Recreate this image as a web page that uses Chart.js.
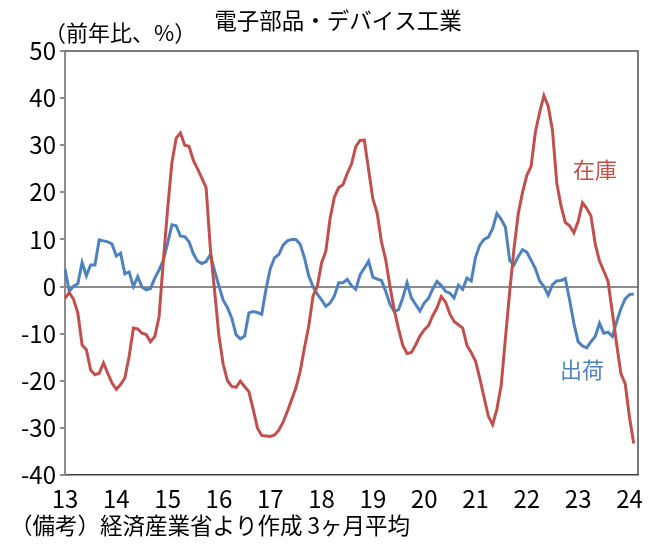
<!DOCTYPE html>
<html lang="ja">
<head>
<meta charset="utf-8">
<title>電子部品・デバイス工業</title>
<script src="https://cdn.jsdelivr.net/npm/chart.js@4.4.1/dist/chart.umd.min.js"></script>
<style>
  html, body { margin: 0; padding: 0; background: #fff; }
  #chart { display: block; }
</style>
</head>
<body>
<canvas id="chart" width="657" height="545"></canvas>
<script>
// 電子部品・デバイス工業：出荷・在庫（前年比、3ヶ月平均）

const START_YEAR = 2013;
const MONTH_COUNT = 135; // Jan 2013 .. Mar 2024 (axis runs a little past the data)

const yearTicks = ["13", "14", "15", "16", "17", "18", "19", "20", "21", "22", "23", "24"];

// 在庫 (inventory), monthly from Jan 2013
const inventory = [
  -2.5, -1.3, -2.7, -5.6, -12.4, -13.4, -17.7, -18.7, -18.4, -16.2, -18.4, -20.5,
  -21.8, -20.8, -19.4, -14.8, -8.8, -9.0, -9.9, -10.2, -11.7, -10.6, -6.4, 5.5,
  16.5, 26.3, 31.5, 32.6, 30.0, 29.8, 26.8, 25.0, 23.0, 21.0, 8.0, -1.0,
  -10.5, -16.5, -20.0, -21.2, -21.4, -20.1, -21.2, -22.3, -26.0, -30.0, -31.6, -31.7,
  -31.8, -31.5, -30.5, -28.8, -26.5, -24.0, -21.5, -18.0, -13.0, -8.4, -2.0, 0.0,
  5.0, 7.5, 14.5, 19.0, 21.0, 21.6, 24.0, 26.0, 29.7, 31.0, 31.1, 24.8,
  18.6, 15.6, 9.5, 5.7, 0.0, -5.0, -9.0, -12.5, -14.2, -14.0, -12.4, -10.5,
  -9.2, -8.3, -6.2, -4.5, -2.1, -3.3, -5.8, -7.4, -8.1, -8.8, -12.5, -14.0,
  -15.8, -19.5, -23.5, -27.5, -29.3, -26.0, -21.0, -11.0, -1.0, 8.0, 15.5, 20.0,
  23.6, 25.5, 32.8, 37.0, 40.5, 38.3, 33.2, 22.0, 17.1, 13.6, 12.9, 11.4,
  13.8, 17.8, 16.6, 15.0, 9.0, 5.4, 3.3, 1.1, -5.5, -12.2, -18.5, -20.6,
  -27.7, -33.3,
];

// 出荷 (shipments), monthly from Jan 2013
const shipments = [
  3.7, -1.0, 0.1, 0.6, 5.1, 2.3, 4.6, 4.6, 9.9, 9.7, 9.5, 9.0,
  6.5, 7.1, 2.7, 3.1, 0.0, 2.1, -0.1, -0.7, -0.4, 1.8, 3.5, 5.6,
  9.2, 13.1, 12.9, 10.7, 10.6, 9.5, 7.0, 5.4, 4.9, 5.3, 6.8, 3.3,
  0.1, -2.9, -4.5, -6.7, -10.2, -11.1, -10.5, -5.6, -5.3, -5.5, -5.9, -0.6,
  3.8, 6.1, 6.8, 8.8, 9.7, 10.0, 10.0, 9.0, 6.1, 2.3, 0.0, -1.6,
  -2.8, -4.2, -3.5, -2.0, 0.8, 0.8, 1.5, 0.2, -0.6, 2.5, 3.9, 5.4,
  2.0, 1.6, 1.3, -1.0, -3.8, -5.3, -4.9, -2.4, 0.8, -2.4, -3.8, -5.2,
  -3.5, -2.5, -0.5, 1.1, 0.2, -1.0, -1.4, -2.4, 0.3, -0.6, 1.8, 1.2,
  6.2, 8.8, 10.0, 10.5, 12.3, 15.5, 14.3, 12.6, 5.5, 4.6, 6.4, 7.8,
  7.3, 5.6, 3.8, 1.2, 0.0, -1.8, 0.4, 1.2, 1.3, 1.7, -2.8, -7.8,
  -11.7, -12.6, -13.0, -11.7, -10.6, -7.8, -9.9, -9.7, -10.6, -7.5, -4.7, -2.6,
  -1.7, -1.6,
];

const months = [];
for (let i = 0; i < MONTH_COUNT; i++) {
  const y = START_YEAR + Math.floor(i / 12);
  const m = (i % 12) + 1;
  months.push(`${y}-${String(m).padStart(2, "0")}`);
}

const FONT_NUM = "'Noto Sans CJK JP', sans-serif";
const FONT_JP = "'Noto Sans CJK JP', sans-serif";
const RED = "#C0504D";
const BLUE = "#4F81BD";

// top / right edges of the plot box
const frameBox = {
  id: "frameBox",
  beforeDatasetsDraw(chart) {
    const { ctx, chartArea: a } = chart;
    ctx.save();
    ctx.strokeStyle = "#505050";
    ctx.lineWidth = 1.5;
    ctx.beginPath();
    ctx.moveTo(a.left, a.top);
    ctx.lineTo(a.right, a.top);
    ctx.lineTo(a.right, a.bottom);
    ctx.stroke();
    ctx.restore();
  },
};

// title, unit, note and series labels
const captions = {
  id: "captions",
  afterDraw(chart) {
    const { ctx } = chart;
    ctx.save();
    ctx.textBaseline = "middle";
    ctx.fillStyle = "#000";
    ctx.font = `22.5px ${FONT_JP}`;
    ctx.textAlign = "center";
    ctx.fillText("電子部品・デバイス工業", 338, 20);

    ctx.textAlign = "left";
    ctx.font = `22px ${FONT_JP}`;
    ctx.fillText("（前年比、%）", 44, 33);

    ctx.font = `22.5px ${FONT_JP}`;
    ctx.fillText("（備考）経済産業省より作成 3ヶ月平均", 10, 525);

    ctx.font = `22px ${FONT_JP}`;
    ctx.fillStyle = RED;
    ctx.fillText("在庫", 573, 170);
    ctx.fillStyle = BLUE;
    ctx.fillText("出荷", 560, 370);
    ctx.restore();
  },
};

new Chart(document.getElementById("chart"), {
  type: "line",
  data: {
    labels: months,
    datasets: [
      {
        label: "在庫",
        data: inventory,
        borderColor: RED,
        borderWidth: 3,
        pointRadius: 0,
        tension: 0,
        fill: false,
      },
      {
        label: "出荷",
        data: shipments,
        borderColor: BLUE,
        borderWidth: 3,
        pointRadius: 0,
        tension: 0,
        fill: false,
      },
    ],
  },
  options: {
    responsive: false,
    animation: false,
    devicePixelRatio: 1,
    layout: { padding: { top: 51, right: 19, bottom: 0, left: 0 } },
    plugins: {
      legend: { display: false },
      tooltip: { enabled: false },
    },
    scales: {
      x: {
        type: "category",
        offset: false,
        grid: { display: false },
        border: { display: true, color: "#404040", width: 1.5 },
        ticks: {
          autoSkip: false,
          maxRotation: 0,
          minRotation: 0,
          padding: 1,
          color: "#000",
          font: { family: FONT_NUM, size: 24 },
          callback: (v, i) => (i % 12 === 0 ? yearTicks[i / 12] || "" : ""),
        },
        afterFit: (s) => {
          s.height = 70;
        },
      },
      y: {
        min: -40,
        max: 50,
        ticks: {
          stepSize: 10,
          padding: 4,
          color: "#000",
          font: { family: FONT_NUM, size: 24 },
        },
        grid: {
          color: (c) => (c.tick && c.tick.value === 0 ? "#8c8c8c" : "transparent"),
          lineWidth: 2,
          tickColor: "#8c8c8c",
          tickLength: 5,
        },
        border: { display: true, color: "#8c8c8c", width: 2 },
        afterFit: (s) => {
          s.width = 65;
        },
      },
    },
  },
  plugins: [frameBox, captions],
});
</script>
</body>
</html>
